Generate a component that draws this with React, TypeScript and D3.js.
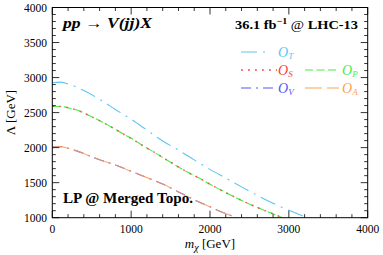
import React from "react";
import * as d3 from "d3";

// curve readings (m_chi in GeV, Lambda in GeV)
const mxT = [0, 100, 200, 400, 600, 800, 1000, 1200, 1400, 1600, 1800, 2000, 2200, 2400, 2600, 2800, 3000, 3250];
const lambdaT = [2925, 2935, 2910, 2815, 2690, 2545, 2405, 2250, 2095, 1965, 1825, 1690, 1565, 1440, 1320, 1205, 1105, 995];

const mxSP = [0, 100, 200, 300, 400, 500, 600, 700, 800, 900, 1000, 1100, 1200, 1300, 1400, 1500, 1600, 1700, 1800, 1900, 2000, 2200, 2400, 2600, 2800, 2920];
const lambdaSP = [2590, 2587, 2570, 2540, 2495, 2440, 2385, 2325, 2262, 2195, 2133, 2062, 1994, 1930, 1860, 1792, 1724, 1660, 1600, 1543, 1478, 1358, 1247, 1145, 1055, 1000];

const mxVA = [0, 100, 200, 300, 400, 500, 600, 800, 1000, 1200, 1400, 1600, 1800, 2000, 2200, 2340];
const lambdaVA = [2010, 2015, 1992, 1957, 1915, 1868, 1828, 1752, 1662, 1572, 1482, 1368, 1255, 1155, 1058, 1000];

const xTickLabels = [0, 1000, 2000, 3000, 4000];
const yTickLabels = [1000, 1500, 2000, 2500, 3000, 3500, 4000];

// drawing order: P under S, V under A
const series = [
  { key: "T", mx: mxT, lam: lambdaT, color: "#5cc6f2", dash: "16,6,2,6", op: 1, w: 1.1 },
  { key: "P", mx: mxSP, lam: lambdaSP, color: "#44ee44", dash: "8,3.5", op: 1, w: 1.1 },
  { key: "S", mx: mxSP, lam: lambdaSP, color: "#ff3c3c", dash: "1.8,5.2", op: 0.75, w: 1.6 },
  { key: "V", mx: mxVA, lam: lambdaVA, color: "#5555ff", dash: "10,5,2,5", op: 1, w: 1.1 },
  { key: "A", mx: mxVA, lam: lambdaVA, color: "#ffa050", dash: "17,5", op: 0.85, w: 1.1 },
];
const byKey = (k: string) => series.find((s) => s.key === k)!;

const W = 383;
const H = 255;
const left = 52.3;
const right = 367.7;
const top = 7.5;
const bottom = 217.7;
const serif = "'Liberation Serif', 'DejaVu Serif', serif";

export default function App() {
  const x = d3.scaleLinear().domain([0, 4000]).range([left, right]);
  const y = d3.scaleLinear().domain([1000, 4000]).range([bottom, top]);

  const line = (mx: number[], lam: number[]) =>
    d3
      .line<number>()
      .x((_, i) => x(mx[i]))
      .y((d) => y(d))
      .curve(d3.curveMonotoneX)(lam) || "";

  const xTicks = d3.range(0, 4001, 200);
  const yTicks = d3.range(1000, 4001, 100);

  const legendRows = [
    [{ s: byKey("T"), x0: 241, len: 28 }],
    [
      { s: byKey("S"), x0: 241, len: 36 },
      { s: byKey("P"), x0: 305, len: 34 },
    ],
    [
      { s: byKey("V"), x0: 241, len: 36 },
      { s: byKey("A"), x0: 305, len: 34 },
    ],
  ];

  return (
    <svg
      width={W}
      height={H}
      style={{ position: "absolute", left: 0, top: 0, background: "#fff" }}
    >
      <defs>
        <clipPath id="plot">
          <rect x={left} y={top} width={right - left} height={bottom - top} />
        </clipPath>
      </defs>

      <g clipPath="url(#plot)">
        {series.map((s) => (
          <path
            key={s.key}
            d={line(s.mx, s.lam)}
            fill="none"
            stroke={s.color}
            strokeOpacity={s.op}
            strokeWidth={s.w}
            strokeDasharray={s.dash}
          />
        ))}
      </g>

      {/* frame and ticks */}
      <rect x={left} y={top} width={right - left} height={bottom - top} fill="none" stroke="#000" strokeWidth={1} />
      {xTicks.map((t) => {
        const len = t % 1000 === 0 ? 7 : 3.5;
        return (
          <g key={"x" + t} stroke="#000" strokeWidth={0.8}>
            <line x1={x(t)} x2={x(t)} y1={bottom} y2={bottom - len} />
            <line x1={x(t)} x2={x(t)} y1={top} y2={top + len} />
          </g>
        );
      })}
      {yTicks.map((t) => {
        const len = t % 500 === 0 ? 7 : 3.5;
        return (
          <g key={"y" + t} stroke="#000" strokeWidth={0.8}>
            <line x1={left} x2={left + len} y1={y(t)} y2={y(t)} />
            <line x1={right} x2={right - len} y1={y(t)} y2={y(t)} />
          </g>
        );
      })}

      {xTickLabels.map((t) => (
        <text key={"xl" + t} x={x(t)} y={233} textAnchor="middle" fontFamily={serif} fontSize={11.5}>
          {t}
        </text>
      ))}
      {yTickLabels.map((t) => (
        <text key={"yl" + t} x={47} y={y(t) + 4} textAnchor="end" fontFamily={serif} fontSize={11.5}>
          {t}
        </text>
      ))}

      <text x={(left + right) / 2} y={248} textAnchor="middle" fontFamily={serif} fontSize={13}>
        <tspan fontStyle="italic">m</tspan>
        <tspan fontStyle="italic" fontSize={10} dy={3}>χ</tspan>
        <tspan dy={-3}> [GeV]</tspan>
      </text>
      <text
        transform={`translate(15,${(top + bottom) / 2}) rotate(-90)`}
        textAnchor="middle"
        fontFamily={serif}
        fontSize={13}
      >
        Λ [GeV]
      </text>

      <text x={63} y={28} fontFamily={serif} fontSize={15} fontWeight="bold" fontStyle="italic" textLength={89} lengthAdjust="spacingAndGlyphs">
        pp → V(jj)X
      </text>
      <text x={235} y={29} fontFamily={serif} fontSize={13} fontWeight="bold" textLength={123} lengthAdjust="spacingAndGlyphs">
        36.1 fb<tspan fontSize={9} dy={-5}>−1</tspan>
        <tspan dy={5} fontWeight="normal"> @ </tspan>LHC-13
      </text>
      <text x={63} y={203} fontFamily={serif} fontSize={15} fontWeight="bold" textLength={130} lengthAdjust="spacingAndGlyphs">
        LP @ Merged Topo.
      </text>

      {legendRows.map((row, ri) =>
        row.map(({ s, x0, len }) => {
          const yy = 52 + ri * 18;
          return (
            <g key={"lg" + s.key}>
              <line
                x1={x0}
                x2={x0 + len}
                y1={yy}
                y2={yy}
                stroke={s.color}
                strokeWidth={s.w}
                strokeDasharray={s.dash}
              />
              <text x={x0 + 37} y={yy + 4.5} fontFamily={serif} fontSize={14} fontStyle="italic" fill={s.color}>
                O<tspan fontSize={9} dy={2}>{s.key}</tspan>
              </text>
            </g>
          );
        })
      )}
    </svg>
  );
}
